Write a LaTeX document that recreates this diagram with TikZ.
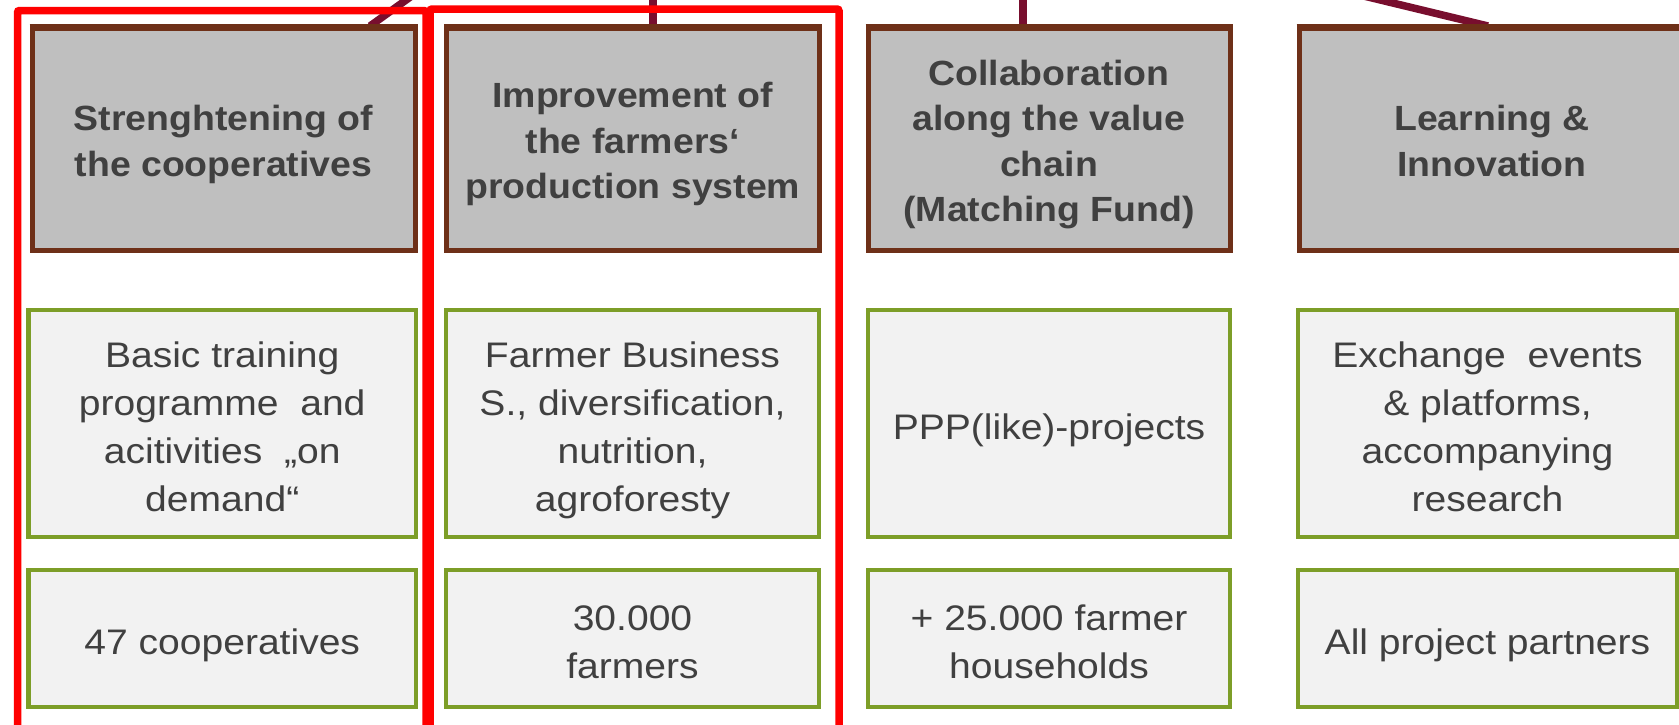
\documentclass[tikz,border=0pt]{standalone}
\usepackage{fontspec}
\setmainfont{Liberation Sans}[FakeStretch=1.1]
\newfontfamily\hdrfam{Liberation Sans}[FakeStretch=1.07]
\definecolor{hdrgray}{RGB}{191,191,191}
\definecolor{hdrbrown}{RGB}{110,48,24}
\definecolor{boxgreen}{RGB}{125,158,40}
\definecolor{boxfill}{RGB}{242,242,242}
\definecolor{txtgray}{RGB}{64,64,64}
\definecolor{connred}{RGB}{120,14,46}
\newcommand{\gA}{\rule[-0.25em]{0pt}{1.4em}}
\newcommand{\hA}{\rule[-0.25em]{0pt}{1.3em}}
\newcommand{\zD}{\rule[-0.25em]{0pt}{0.25em}}
\begin{document}
\begin{tikzpicture}[x=1pt,y=-1pt,
  hdrbox/.style={draw=hdrbrown, line width=5pt, fill=hdrgray, text=txtgray,
    font=\hdrfam\bfseries\fontsize{35}{45.5}\selectfont, align=center, inner sep=0pt,
    minimum height=221.5pt},
  grbox/.style={draw=boxgreen, line width=4.5pt, fill=boxfill, text=txtgray,
    font=\fontsize{35.5}{48}\selectfont, align=center, inner sep=0pt},
  conn/.style={draw=connred, line width=7.5pt},
  redframe/.style={draw=red, line width=7.5pt, rounded corners=2pt}]
\useasboundingbox (0,0) rectangle (1679,724);
\fill[white] (0,0) rectangle (1679,724);

% connectors (free ends above the picture)
\coordinate (t1) at (420,-10);
\coordinate (e1) at (370,0);
\coordinate (t2) at (653,-10);
\coordinate (t3) at (1023,-10);
\coordinate (t4) at (1339,-10);
\coordinate (e4) at (1488,0);

% header boxes
\node[hdrbox, minimum width=383pt] (h1) at (223.5,139.25) {\hA Strenghtening of\\the cooperatives\zD};
\node[hdrbox, minimum width=372.5pt] (h2) at (632.75,139.25) {\hA Improvement of\\the farmers‘\\production system\zD};
\node[hdrbox, minimum width=362pt] (h3) at (1049,139.25) {\hA Collaboration\\along the value\\chain\\(Matching Fund)\zD};
\node[hdrbox, minimum width=386pt] (h4) at (1492,139.25) {\hA Learning \&\\Innovation\zD};

\draw[conn] (t1) -- (e1 |- h1.north);
\draw[conn] (t2) -- (t2 |- h2.north);
\draw[conn] (t3) -- (t3 |- h3.north);
\draw[conn] (t4) -- (e4 |- h4.north);

% redraw header borders over connector ends
\foreach \n in {h1,h2,h3,h4}{
  \draw[hdrbrown, line width=5pt] (\n.north west) -- (\n.north east);
}

% activity boxes
\node[grbox, minimum width=387.5pt, minimum height=227pt] (a1) at (222.25,423.5) {\gA Basic training\\programme\ \ and\\acitivities \ „on\\demand“\zD};
\node[grbox, minimum width=373pt, minimum height=227pt] (a2) at (632.5,423.5) {\gA Farmer Business\\S., diversification,\\nutrition,\\agroforesty\zD};
\node[grbox, minimum width=362pt, minimum height=227pt] (a3) at (1049,423.5) {\gA PPP(like)-projects\zD};
\node[grbox, minimum width=379pt, minimum height=227pt] (a4) at (1487.5,423.5) {\gA Exchange\ \ events\\\& platforms,\\accompanying\\research\zD};

% target boxes
\node[grbox, minimum width=387.5pt, minimum height=137pt] (b1) at (222.25,638.5) {\gA 47 cooperatives\zD};
\node[grbox, minimum width=373pt, minimum height=137pt] (b2) at (632.5,638.5) {\gA 30.000\\farmers\zD};
\node[grbox, minimum width=362pt, minimum height=137pt] (b3) at (1049,638.5) {\gA + 25.000 farmer\\households\zD};
\node[grbox, minimum width=379pt, minimum height=137pt] (b4) at (1487.5,638.5) {\gA All\ project partners\zD};

% red highlight frames
\draw[redframe] (17.5,10.5) rectangle (426,745);
\draw[redframe] (430,9) rectangle (839,745);
\end{tikzpicture}
\end{document}
